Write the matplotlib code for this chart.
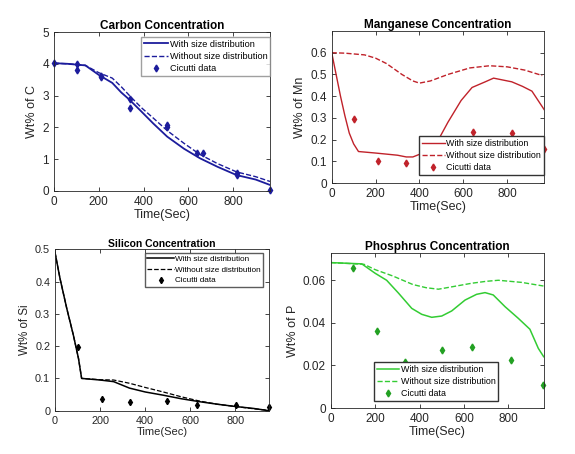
import matplotlib
matplotlib.use("Agg")
import matplotlib.pyplot as plt

plt.rcParams['font.family'] = ['Liberation Sans', 'DejaVu Sans']

# ---- Carbon ----
c_t = [0, 60, 140, 200, 260, 300, 337, 390, 442, 505, 580, 651, 730, 815, 900, 964]
c_with = [4.02, 4.0, 3.95, 3.65, 3.4, 3.1, 2.87, 2.5, 2.13, 1.71, 1.33, 1.03, 0.76, 0.5, 0.36, 0.19]
c_without = [4.02, 4.0, 3.95, 3.72, 3.55, 3.28, 3.0, 2.62, 2.3, 1.9, 1.5, 1.15, 0.86, 0.6, 0.45, 0.3]
c_dt = [0, 104, 104, 211, 211, 337, 337, 505, 505, 640, 663, 815, 815, 962]
c_dv = [4.02, 4.0, 3.81, 3.61, 3.57, 2.9, 2.62, 2.06, 2.0, 1.21, 1.19, 0.58, 0.51, 0.04]

# ---- Manganese ----
mn_t = [0, 20, 40, 60, 80, 100, 122, 200, 300, 340, 370, 420, 487, 530, 590, 640, 700, 738, 821, 870, 913, 970]
mn_with = [0.6, 0.5, 0.4, 0.31, 0.23, 0.18, 0.145, 0.138, 0.128, 0.12, 0.12, 0.14, 0.2, 0.28, 0.38, 0.44, 0.466, 0.483, 0.466, 0.445, 0.423, 0.336]
mn_t2 = [0, 60, 150, 200, 250, 320, 370, 400, 450, 530, 630, 720, 800, 880, 960]
mn_without = [0.6, 0.598, 0.59, 0.575, 0.55, 0.5, 0.47, 0.46, 0.47, 0.5, 0.53, 0.54, 0.535, 0.52, 0.495]
mn_dt = [103, 213, 339, 643, 821, 967]
mn_dv = [0.295, 0.103, 0.094, 0.235, 0.229, 0.157]

# ---- Silicon ----
si_t = [0, 22, 52, 81, 104, 118, 200, 260, 330, 400, 480, 560, 640, 720, 800, 880, 948]
si_with = [0.49, 0.41, 0.317, 0.235, 0.162, 0.1, 0.095, 0.09, 0.07, 0.058, 0.048, 0.037, 0.028, 0.02, 0.013, 0.007, 0.0]
si_without = [0.49, 0.41, 0.317, 0.235, 0.162, 0.1, 0.096, 0.095, 0.085, 0.072, 0.058, 0.043, 0.03, 0.02, 0.013, 0.006, 0.001]
si_dt = [100, 207, 331, 495, 630, 803, 948]
si_dv = [0.196, 0.035, 0.028, 0.029, 0.018, 0.019, 0.012]

# ---- Phosphorus ----
p_t = [0, 140, 200, 252, 305, 365, 410, 455, 500, 545, 605, 657, 695, 732, 785, 845, 897, 935, 959]
p_with = [0.0683, 0.0677, 0.0633, 0.060, 0.054, 0.0468, 0.044, 0.0426, 0.0432, 0.0456, 0.0507, 0.0534, 0.0542, 0.0531, 0.0476, 0.0421, 0.037, 0.028, 0.0241]
p_t2 = [0, 150, 200, 280, 370, 430, 485, 550, 635, 700, 755, 860, 958]
p_without = [0.0683, 0.0675, 0.065, 0.062, 0.058, 0.0565, 0.0558, 0.057, 0.0586, 0.0595, 0.060, 0.059, 0.0573]
p_dt = [102, 210, 335, 500, 635, 812, 958]
p_dv = [0.0656, 0.0362, 0.0218, 0.0273, 0.0285, 0.0224, 0.0108]

fig = plt.figure(figsize=(5.75, 4.54), dpi=100)


def style(ax, fs):
    ax.tick_params(direction='in', length=3, width=0.6, top=True, right=True,
                   labelsize=fs, colors='#262626', labelcolor='#262626')
    for s in ax.spines.values():
        s.set_linewidth(0.6)
        s.set_color('#262626')


# Carbon
col = '#1c1c9c'
ax = fig.add_axes([0.0939, 0.5793, 0.3757, 0.3502])
ax.plot(c_t, c_with, '-', color=col, lw=1.3, label='With size distribution')
ax.plot(c_t, c_without, '--', color=col, lw=1.0, label='Without size distribution')
ax.plot(c_dt, c_dv, 'd', color=col, ms=3.5, ls='none', label='Cicutti data', clip_on=False)
ax.set_xlim(0, 964)
ax.set_ylim(0, 5)
ax.set_xticks([0, 200, 400, 600, 800])
ax.set_yticks([0, 1, 2, 3, 4, 5])
style(ax, 8.5)
ax.set_title('Carbon Concentration', fontsize=8.5, fontweight='bold', pad=2)
ax.set_xlabel('Time(Sec)', fontsize=9, color='#262626', labelpad=1)
ax.set_ylabel('Wt% of C', fontsize=9, color='#262626', labelpad=3)
ax.legend(loc='upper right', bbox_to_anchor=(1.0, 0.97), fontsize=6.6, frameon=True,
          fancybox=False, edgecolor='#888888', borderpad=0.3, labelspacing=0.35,
          handlelength=2.6, handletextpad=0.2, borderaxespad=0)

# Manganese
col = '#c0222a'
ax = fig.add_axes([0.5769, 0.5969, 0.3692, 0.3348])
ax.plot(mn_t, mn_with, '-', color=col, lw=1.0, label='With size distribution')
ax.plot(mn_t2, mn_without, '--', color=col, lw=1.0, label='Without size distribution')
ax.plot(mn_dt, mn_dv, 'd', color=col, ms=3.5, ls='none', label='Cicutti data', clip_on=False)
ax.set_xlim(0, 968)
ax.set_ylim(0, 0.7)
ax.set_xticks([0, 200, 400, 600, 800])
ax.set_yticks([0, 0.1, 0.2, 0.3, 0.4, 0.5, 0.6])
ax.set_yticklabels(['0', '0.1', '0.2', '0.3', '0.4', '0.5', '0.6'])
style(ax, 8.5)
ax.set_title('Manganese Concentration', fontsize=8.5, fontweight='bold', pad=2)
ax.set_xlabel('Time(Sec)', fontsize=9, color='#262626', labelpad=1)
ax.set_ylabel('Wt% of Mn', fontsize=9, color='#262626', labelpad=3)
ax.legend(loc='lower right', bbox_to_anchor=(1.0, 0.053), fontsize=6.4, frameon=True,
          fancybox=False, edgecolor='#333333', borderpad=0.3, labelspacing=0.35,
          handlelength=2.6, handletextpad=0.2, borderaxespad=0, framealpha=1)

# Silicon
col = 'black'
ax = fig.add_axes([0.0957, 0.0954, 0.3717, 0.3555])
ax.plot(si_t, si_with, '-', color=col, lw=1.1, label='With size distribution')
ax.plot(si_t, si_without, '--', color=col, lw=0.9, label='Without size distribution')
ax.plot(si_dt, si_dv, 'd', color=col, ms=3.2, ls='none', label='Cicutti data', clip_on=False)
ax.set_xlim(0, 948)
ax.set_ylim(0, 0.5)
ax.set_xticks([0, 200, 400, 600, 800])
ax.set_yticks([0, 0.1, 0.2, 0.3, 0.4, 0.5])
ax.set_yticklabels(['0', '0.1', '0.2', '0.3', '0.4', '0.5'])
style(ax, 7.8)
ax.set_title('Silicon Concentration', fontsize=7.5, fontweight='bold', pad=2)
ax.set_xlabel('Time(Sec)', fontsize=8, color='#262626', labelpad=1)
ax.set_ylabel('Wt% of Si', fontsize=8.3, color='#262626', labelpad=3)
ax.legend(loc='upper right', bbox_to_anchor=(0.975, 0.977), fontsize=5.9, frameon=True,
          fancybox=False, edgecolor='#333333', borderpad=0.3, labelspacing=0.35,
          handlelength=3.2, handletextpad=0.2, borderaxespad=0)

# Phosphorus
col = '#33cc33'
ax = fig.add_axes([0.5751, 0.1013, 0.3704, 0.3414])
ax.plot(p_t, p_with, '-', color=col, lw=1.1, label='With size distribution')
ax.plot(p_t2, p_without, '--', color=col, lw=1.0, label='Without size distribution')
ax.plot(p_dt, p_dv, 'd', color='#22a022', ms=3.5, ls='none', label='Cicutti data', clip_on=False)
ax.set_xlim(0, 959)
ax.set_ylim(0, 0.0728)
ax.set_xticks([0, 200, 400, 600, 800])
ax.set_yticks([0, 0.02, 0.04, 0.06])
ax.set_yticklabels(['0', '0.02', '0.04', '0.06'])
style(ax, 8.5)
ax.set_title('Phosphrus Concentration', fontsize=8.5, fontweight='bold', pad=2)
ax.set_xlabel('Time(Sec)', fontsize=9, color='#262626', labelpad=1)
ax.set_ylabel('Wt% of P', fontsize=9, color='#262626', labelpad=3)
ax.legend(loc='lower left', bbox_to_anchor=(0.203, 0.045), fontsize=6.4, frameon=True,
          fancybox=False, edgecolor='#333333', borderpad=0.3, labelspacing=0.35,
          handlelength=2.5, handletextpad=0.2, borderaxespad=0, framealpha=1)

fig.savefig('out.png', dpi=100)
